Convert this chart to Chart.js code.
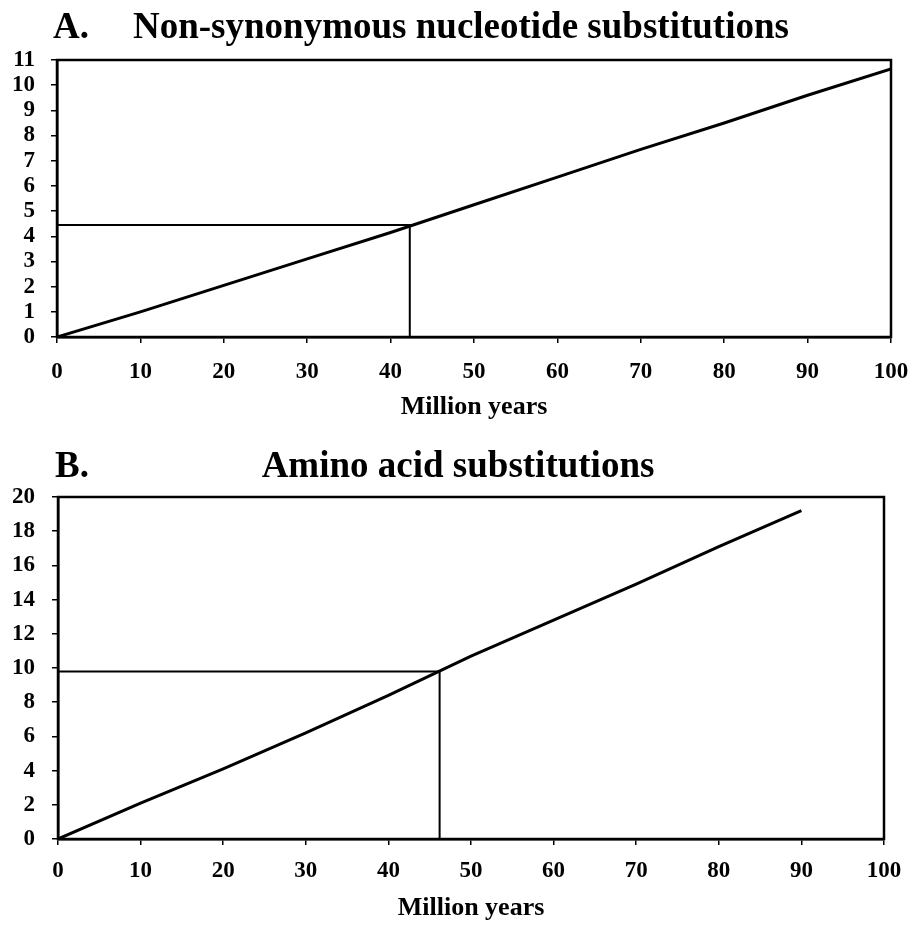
<!DOCTYPE html>
<html>
<head>
<meta charset="utf-8">
<script src="https://cdn.jsdelivr.net/npm/chart.js@4.4.1/dist/chart.umd.min.js"></script>
<style>
  html, body { margin: 0; padding: 0; background: #fff; }
  body { width: 909px; height: 927px; position: relative; overflow: hidden; }
  canvas { position: absolute; left: 0; }
  #chartA { top: 0; }
  #chartB { top: 430px; }
</style>
</head>
<body>
<canvas id="chartA" width="909" height="430"></canvas>
<canvas id="chartB" width="909" height="497"></canvas>
<script>
// panel A: non-synonymous nucleotide substitutions
const yearsA = [0, 10, 20, 30, 40, 50, 60, 70, 80, 90, 100];
const nonSynA = [0, 1.0, 2.05, 3.1, 4.15, 5.25, 6.35, 7.45, 8.5, 9.6, 10.65];
const refA = { x: 42.3, y: 4.45 };
const yTicksA = [0, 1, 2, 3, 4, 5, 6, 7, 8, 9, 10, 11];

// panel B: amino acid substitutions
const yearsB = [0, 10, 20, 30, 40, 50, 60, 70, 80, 90];
const aminoB = [0, 2.1, 4.1, 6.2, 8.4, 10.7, 12.8, 14.9, 17.1, 19.2];
const refB = { x: 46.2, y: 9.8 };
const yTicksB = [0, 2, 4, 6, 8, 10, 12, 14, 16, 18, 20];

const xTicks = [0, 10, 20, 30, 40, 50, 60, 70, 80, 90, 100];

const serif = '"Liberation Serif", "Times New Roman", serif';

// box round the plot area + panel headings
const frame = {
  id: 'frame',
  afterDraw(chart, args, opts) {
    const { ctx, chartArea: a } = chart;
    ctx.save();
    ctx.strokeStyle = '#000';
    ctx.lineWidth = 2.5;
    ctx.strokeRect(a.left, a.top, a.right - a.left, a.bottom - a.top);
    ctx.fillStyle = '#000';
    ctx.font = 'bold ' + opts.size + 'px ' + serif;
    ctx.textBaseline = 'middle';
    ctx.textAlign = 'left';
    ctx.fillText(opts.letter, opts.letterX, opts.y);
    if (opts.titleAlign === 'center') {
      ctx.textAlign = 'center';
    }
    ctx.fillText(opts.title, opts.titleX, opts.y);
    ctx.restore();
  }
};

function makeChart(id, cfg) {
  const toPts = (xs, ys) => xs.map((x, i) => ({ x: x, y: ys[i] }));
  return new Chart(document.getElementById(id), {
    type: 'line',
    data: {
      datasets: [
        {
          data: toPts(cfg.xs, cfg.ys),
          borderColor: '#000',
          borderWidth: 3,
          pointRadius: 0,
          tension: 0
        },
        {
          data: [{ x: 0, y: cfg.ref.y }, { x: cfg.ref.x, y: cfg.ref.y }, { x: cfg.ref.x, y: 0 }],
          borderColor: '#000',
          borderWidth: 2,
          pointRadius: 0,
          tension: 0
        }
      ]
    },
    options: {
      responsive: false,
      animation: false,
      layout: { padding: { top: cfg.padTop, right: cfg.padRight, left: 0, bottom: 0 } },
      plugins: {
        legend: { display: false },
        tooltip: { enabled: false },
        frame: cfg.head
      },
      scales: {
        x: {
          type: 'linear',
          min: 0,
          max: 100,
          afterBuildTicks: s => { s.ticks = xTicks.map(v => ({ value: v })); },
          afterFit: s => {
            s.height = cfg.xHeight;
            s.paddingLeft = 0;
            s.paddingRight = 0;
          },
          grid: { drawOnChartArea: false, color: '#000', lineWidth: 1.5, tickLength: 6 },
          border: { color: '#000', width: 2.5 },
          ticks: { color: '#000', padding: cfg.xPad, maxRotation: 0, autoSkip: false, font: { family: serif, size: 23, weight: 'bold' } },
          title: {
            display: true,
            text: 'Million years',
            color: '#000',
            padding: { top: 0, bottom: cfg.titlePad },
            font: { family: serif, size: 26, weight: 'bold' }
          }
        },
        y: {
          min: 0,
          max: cfg.yMax,
          afterBuildTicks: s => { s.ticks = cfg.yTicks.map(v => ({ value: v })); },
          afterFit: s => {
            s.width = cfg.yWidth;
            s.paddingTop = 0;
            s.paddingBottom = 0;
          },
          grid: { drawOnChartArea: false, color: '#000', lineWidth: 1.5, tickLength: 6 },
          border: { color: '#000', width: 2.5 },
          ticks: { color: '#000', padding: cfg.yPad, autoSkip: false, font: { family: serif, size: 23, weight: 'bold' } }
        }
      }
    },
    plugins: [frame]
  });
}

makeChart('chartA', {
  xs: yearsA, ys: nonSynA, ref: refA, yMax: 11, yTicks: yTicksA,
  padTop: 60, padRight: 18, xHeight: 93, yWidth: 57,
  xPad: 15, yPad: 16, titlePad: 7,
  head: { letter: 'A.', letterX: 53, title: 'Non-synonymous nucleotide substitutions', titleX: 133, titleAlign: 'left', y: 28, size: 37 }
});

makeChart('chartB', {
  xs: yearsB, ys: aminoB, ref: refB, yMax: 20, yTicks: yTicksB,
  padTop: 67, padRight: 25, xHeight: 88, yWidth: 58,
  xPad: 12, yPad: 17, titlePad: 3,
  head: { letter: 'B.', letterX: 55, title: 'Amino acid substitutions', titleX: 458, titleAlign: 'center', y: 37, size: 37 }
});
</script>
</body>
</html>
